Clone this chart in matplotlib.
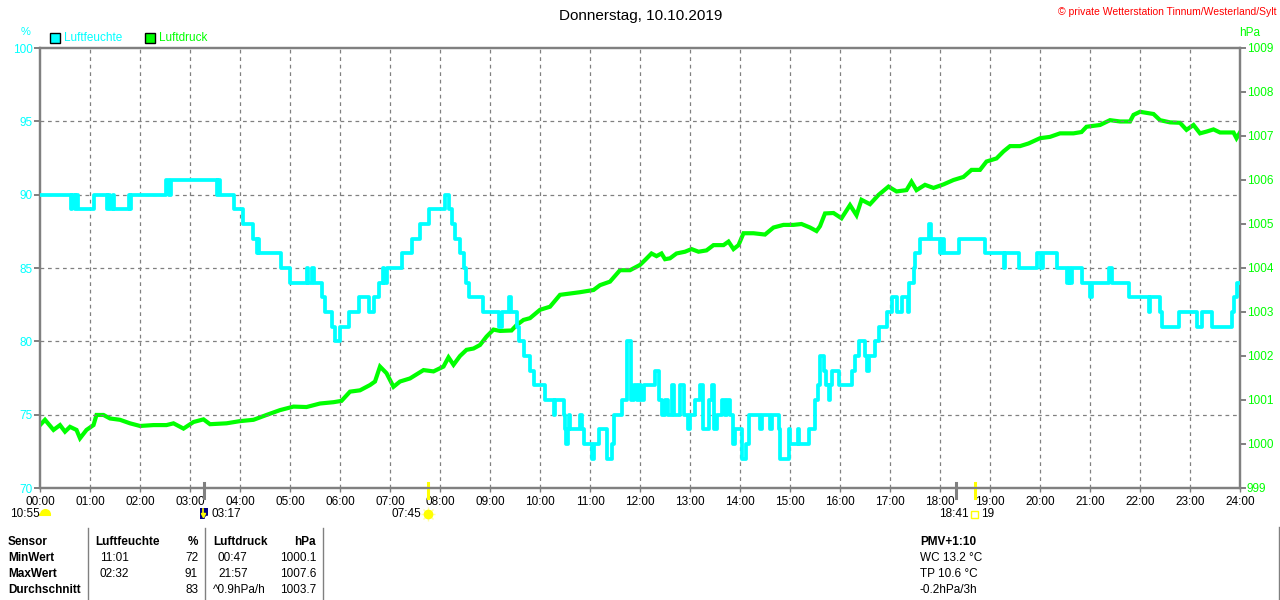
import matplotlib
matplotlib.use("Agg")
import matplotlib.pyplot as plt
from matplotlib.patches import Rectangle
from matplotlib.lines import Line2D
from matplotlib.transforms import blended_transform_factory

plt.rcParams['font.family'] = ['Liberation Sans', 'DejaVu Sans']

# Luftfeuchte (%), Stufenwerte: Startstunde -> Wert
HUM_T = [0.00, 0.62, 0.64, 0.70, 0.72, 0.76, 1.07, 1.33, 1.36, 1.40, 1.45, 1.48,
         1.77, 1.79, 1.82, 2.52, 2.58, 2.61, 3.53, 3.56, 3.60, 3.88, 4.05, 4.25,
         4.33, 4.35, 4.37, 4.81, 5.00, 5.33, 5.36, 5.44, 5.47, 5.63, 5.70, 5.83,
         5.90, 6.00, 6.17, 6.37, 6.57, 6.67, 6.77, 6.85, 6.88, 6.93, 7.23, 7.43,
         7.60, 7.78, 8.10, 8.17, 8.24, 8.30, 8.40, 8.47, 8.52, 8.58, 8.87, 9.17,
         9.23, 9.38, 9.42, 9.53, 9.58, 9.67, 9.80, 9.87, 10.10, 10.27, 10.30, 10.47,
         10.50, 10.52, 10.55, 10.57, 10.60, 10.80, 10.83, 10.87, 11.03, 11.07, 11.17, 11.33,
         11.43, 11.47, 11.63, 11.73, 11.82, 11.87, 11.93, 11.97, 12.02, 12.07, 12.30, 12.38,
         12.43, 12.50, 12.55, 12.63, 12.67, 12.80, 12.88, 12.95, 13.00, 13.10, 13.20, 13.25,
         13.38, 13.43, 13.48, 13.53, 13.63, 13.70, 13.73, 13.80, 13.85, 13.90, 14.03, 14.12,
         14.18, 14.40, 14.43, 14.60, 14.63, 14.78, 14.80, 14.97, 15.00, 15.15, 15.18, 15.37,
         15.50, 15.55, 15.60, 15.68, 15.72, 15.77, 15.80, 15.83, 15.97, 16.23, 16.30, 16.37,
         16.50, 16.53, 16.57, 16.70, 16.77, 16.93, 17.03, 17.13, 17.23, 17.35, 17.38, 17.47,
         17.50, 17.60, 17.78, 17.82, 18.00, 18.03, 18.07, 18.37, 18.90, 19.27, 19.30, 19.57,
         19.93, 20.02, 20.05, 20.33, 20.53, 20.57, 20.60, 20.63, 20.83, 21.00, 21.03, 21.37,
         21.43, 21.77, 22.17, 22.20, 22.40, 22.43, 22.77, 23.13, 23.23, 23.43, 23.83, 23.87,
         23.93, 24.00]
HUM_V = [90, 89, 90, 89, 90, 89, 90, 89, 90, 89, 90, 89,
         90, 89, 90, 91, 90, 91, 90, 91, 90, 89, 88, 87,
         86, 87, 86, 85, 84, 85, 84, 85, 84, 83, 82, 81,
         80, 81, 82, 83, 82, 83, 84, 85, 84, 85, 86, 87,
         88, 89, 90, 89, 88, 87, 86, 85, 84, 83, 82, 81,
         82, 83, 82, 81, 80, 79, 78, 77, 76, 75, 76, 75,
         74, 73, 74, 75, 74, 75, 74, 73, 72, 73, 74, 72,
         73, 75, 76, 80, 76, 77, 76, 77, 76, 77, 78, 76,
         75, 76, 75, 77, 75, 77, 75, 74, 75, 76, 77, 74,
         76, 77, 74, 75, 76, 75, 76, 75, 73, 74, 72, 73,
         75, 74, 75, 74, 75, 74, 72, 74, 73, 74, 73, 74,
         76, 77, 79, 78, 77, 76, 77, 78, 77, 78, 79, 80,
         79, 78, 79, 80, 81, 82, 83, 82, 83, 82, 84, 85,
         86, 87, 88, 87, 86, 87, 86, 87, 86, 85, 86, 85,
         86, 85, 86, 85, 84, 85, 84, 85, 84, 83, 84, 85,
         84, 83, 82, 83, 82, 81, 82, 81, 82, 81, 82, 83,
         84, 84]

# Luftdruck (hPa)
PRES_T = [0.00, 0.10, 0.27, 0.40, 0.50, 0.60, 0.73, 0.80, 0.93, 1.07, 1.13, 1.27,
          1.40, 1.60, 1.80, 2.00, 2.27, 2.53, 2.67, 2.87, 3.07, 3.27, 3.40, 3.73,
          4.00, 4.27, 4.53, 4.80, 5.07, 5.33, 5.60, 5.87, 6.03, 6.20, 6.40, 6.60,
          6.70, 6.80, 6.93, 7.07, 7.20, 7.40, 7.67, 7.87, 8.07, 8.17, 8.27, 8.40,
          8.53, 8.67, 8.80, 8.93, 9.07, 9.20, 9.43, 9.53, 9.67, 9.80, 10.00, 10.20,
          10.40, 10.60, 10.80, 11.07, 11.20, 11.40, 11.60, 11.80, 12.00, 12.10, 12.23, 12.33,
          12.43, 12.50, 12.60, 12.73, 12.90, 13.03, 13.17, 13.33, 13.47, 13.67, 13.77, 13.87,
          13.97, 14.07, 14.27, 14.50, 14.67, 14.87, 15.07, 15.23, 15.40, 15.53, 15.60, 15.70,
          15.87, 16.03, 16.20, 16.33, 16.43, 16.60, 16.77, 16.97, 17.13, 17.33, 17.43, 17.53,
          17.70, 17.87, 18.07, 18.27, 18.47, 18.63, 18.80, 18.93, 19.13, 19.27, 19.40, 19.60,
          19.77, 20.00, 20.20, 20.40, 20.67, 20.83, 20.93, 21.20, 21.40, 21.60, 21.80, 21.87,
          22.00, 22.27, 22.40, 22.60, 22.80, 22.93, 23.07, 23.20, 23.33, 23.47, 23.60, 23.87,
          23.93, 24.00]
PRES_V = [1000.43, 1000.55, 1000.32, 1000.43, 1000.28, 1000.39, 1000.32, 1000.13, 1000.32, 1000.43, 1000.66, 1000.66,
          1000.58, 1000.55, 1000.47, 1000.41, 1000.43, 1000.43, 1000.47, 1000.35, 1000.50, 1000.56, 1000.45, 1000.47,
          1000.52, 1000.55, 1000.66, 1000.77, 1000.85, 1000.84, 1000.92, 1000.95, 1000.98, 1001.19, 1001.22, 1001.34,
          1001.42, 1001.76, 1001.61, 1001.30, 1001.42, 1001.49, 1001.68, 1001.65, 1001.76, 1001.97, 1001.80, 1002.00,
          1002.14, 1002.17, 1002.25, 1002.44, 1002.60, 1002.57, 1002.58, 1002.70, 1002.82, 1002.86, 1003.05, 1003.12,
          1003.39, 1003.42, 1003.45, 1003.50, 1003.61, 1003.69, 1003.95, 1003.95, 1004.07, 1004.18, 1004.33, 1004.27,
          1004.33, 1004.20, 1004.22, 1004.33, 1004.37, 1004.43, 1004.37, 1004.40, 1004.52, 1004.52, 1004.60, 1004.43,
          1004.52, 1004.79, 1004.79, 1004.76, 1004.92, 1004.98, 1004.98, 1005.00, 1004.92, 1004.84, 1004.95, 1005.24,
          1005.25, 1005.13, 1005.43, 1005.20, 1005.55, 1005.45, 1005.66, 1005.85, 1005.74, 1005.77, 1005.96, 1005.77,
          1005.89, 1005.82, 1005.90, 1006.00, 1006.07, 1006.23, 1006.23, 1006.42, 1006.49, 1006.65, 1006.77, 1006.77,
          1006.83, 1006.95, 1006.98, 1007.06, 1007.06, 1007.09, 1007.21, 1007.25, 1007.36, 1007.33, 1007.33, 1007.48,
          1007.55, 1007.50, 1007.36, 1007.31, 1007.30, 1007.14, 1007.25, 1007.06, 1007.10, 1007.15, 1007.08, 1007.08,
          1006.95, 1007.08]

HOURS = list(range(25))
HOUR_LABELS = [f"{h:02d}:00" for h in HOURS]
HUM_TICKS = [70, 75, 80, 85, 90, 95, 100]
PRES_TICKS = list(range(999, 1010))

TABLE_ROWS = [
    ["Sensor", "Luftfeuchte", "%", "Luftdruck", "hPa"],
    ["MinWert", "11:01", "72", "00:47", "1000.1"],
    ["MaxWert", "02:32", "91", "21:57", "1007.6"],
    ["Durchschnitt", "", "83", "^0.9hPa/h", "1003.7"],
]
SIDE_INFO = ["PMV+1:10", "WC 13.2 °C", "TP 10.6 °C", "-0.2hPa/3h"]

CYAN = "#00FFFF"
GREEN = "#00FF00"
GRAY = "#808080"
YELLOW = "#FFFF00"

W, H = 1280, 600
fig = plt.figure(figsize=(W / 100, H / 100), dpi=100)


def fx(px):
    return px / W


def fy(py):
    return 1 - py / H


ax = fig.add_axes([fx(40), 112 / H, 1200 / W, 440 / H])
ax2 = ax.twinx()

ax.set_xlim(0, 24)
ax.set_ylim(70, 100)
ax2.set_ylim(999, 1009)

ax.set_xticks(HOURS)
ax.set_xticklabels(HOUR_LABELS)
ax.set_yticks(HUM_TICKS)
ax.set_yticklabels([str(v) for v in HUM_TICKS])
ax2.set_yticks(PRES_TICKS)
ax2.set_yticklabels([str(v) for v in PRES_TICKS])

ax.tick_params(axis='x', length=3, width=1, color=GRAY, labelsize=8.5, pad=3, labelcolor='black')
ax.tick_params(axis='y', length=4.5, width=1.4, color=GRAY, labelsize=8.5, pad=0.5, labelcolor=CYAN)
ax2.tick_params(axis='y', length=4.5, width=1.4, color=GRAY, labelsize=8.5, pad=0.5, labelcolor=GREEN)

for a in (ax, ax2):
    for s in a.spines.values():
        s.set_color(GRAY)
        s.set_linewidth(1.6)

# Raster
for h in HOURS[1:-1]:
    ax.axvline(h, color=GRAY, lw=0.9, ls=(0, (3, 3)), zorder=0)
for v in HUM_TICKS[1:-1]:
    ax.axhline(v, color=GRAY, lw=0.9, ls=(0, (3, 3)), zorder=0)

ax2.plot(PRES_T, PRES_V, color=GREEN, lw=3.0, solid_joinstyle='miter', zorder=3)
ax.plot(HUM_T, HUM_V, color=CYAN, lw=2.7, drawstyle='steps-post', zorder=4)
ax.set_zorder(ax2.get_zorder() + 1)
ax.patch.set_visible(False)

# Sonnen-/Mondmarken an der Zeitachse
ax.axvline(3.28, ymin=-0.022, ymax=0.012, color=GRAY, lw=2.2, clip_on=False)
ax.axvline(18.32, ymin=-0.022, ymax=0.012, color=GRAY, lw=2.2, clip_on=False)
ax.axvline(7.75, ymin=-0.022, ymax=0.012, color=YELLOW, lw=2.2, clip_on=False)
ax.axvline(18.69, ymin=-0.022, ymax=0.012, color=YELLOW, lw=2.2, clip_on=False)

bt = blended_transform_factory(ax.transData, fig.transFigure)
fig.text(fx(10), fy(514), "10:55", fontsize=8.5, va='center', ha='left')
# Tageslaenge: halbe Sonne
fig.add_artist(Line2D([fx(45)], [fy(514)], marker='o', ms=8, fillstyle='top',
                      markerfacecolor=YELLOW, markerfacecoloralt='none',
                      markeredgecolor='none', transform=fig.transFigure))
fig.add_artist(Line2D([fx(40), fx(50)], [fy(515), fy(515)], color=YELLOW, lw=1.5))
# Mond
fig.add_artist(Rectangle((3.28 - 0.08, fy(519)), 0.16, 11 / H, transform=bt,
                         facecolor="#000080", edgecolor="none"))
fig.add_artist(Line2D([3.26, 3.26], [fy(509), fy(515)], color=YELLOW, lw=1.2, transform=bt))
fig.add_artist(Line2D([3.26], [fy(515)], marker='v', ms=3, color=YELLOW, transform=bt))
fig.add_artist(Line2D([3.33], [fy(518)], marker='o', ms=3, color='white', transform=bt))
fig.text(3.42, fy(514), "03:17", transform=bt, fontsize=8.5, va='center', ha='left')
# Sonnenaufgang
fig.text(7.62, fy(514), "07:45", transform=bt, fontsize=8.5, va='center', ha='right')
fig.add_artist(Line2D([7.75], [fy(514)], marker='+', ms=10, mew=1, color="#FFFFA0", transform=bt))
fig.add_artist(Line2D([7.75], [fy(514)], marker='x', ms=7, mew=1, color="#FFFFA0", transform=bt))
fig.add_artist(Line2D([7.75], [fy(514)], marker='o', ms=6, color=YELLOW, transform=bt))
# Sonnenuntergang
fig.text(18.58, fy(514), "18:41", transform=bt, fontsize=8.5, va='center', ha='right')
fig.add_artist(Rectangle((18.69 - 0.07, fy(518)), 0.14, 7 / H, transform=bt,
                         facecolor="none", edgecolor=YELLOW, lw=1))
fig.text(18.82, fy(514), "19", transform=bt, fontsize=8.5, va='center', ha='left')

# Kopfzeile
fig.text(fx(641), fy(16), "Donnerstag, 10.10.2019", fontsize=11, ha='center', va='center')
fig.text(fx(1276), fy(12), "© private Wetterstation Tinnum/Westerland/Sylt", fontsize=7.5,
         color='red', ha='right', va='center')
fig.text(fx(26), fy(32), "%", fontsize=8, color=CYAN, ha='center', va='center')
fig.text(fx(1250), fy(33), "hPa", fontsize=8.5, color=GREEN, ha='center', va='center')

fig.add_artist(Rectangle((fx(50), fy(43)), 10 / W, 10 / H, transform=fig.transFigure,
                         facecolor=CYAN, edgecolor='black', lw=1))
fig.text(fx(64), fy(38), "Luftfeuchte", fontsize=8.5, color=CYAN, va='center')
fig.add_artist(Rectangle((fx(145), fy(43)), 10 / W, 10 / H, transform=fig.transFigure,
                         facecolor=GREEN, edgecolor='black', lw=1))
fig.text(fx(159), fy(38), "Luftdruck", fontsize=8.5, color=GREEN, va='center')

# Tabelle unten
col_x = [8, 100, 198, 218, 316]
col_ha = ['left', 'left', 'right', 'left', 'right']
row_y = [542, 558, 574, 590]
for r, row in enumerate(TABLE_ROWS):
    for c, txt in enumerate(row):
        bold = r == 0 or c == 0
        x = col_x[c]
        if r == 0 and c in (1, 3):
            x -= 5
        if r == 3 and c == 3:
            x = 213
        fig.text(fx(x), fy(row_y[r]), txt, fontsize=8.5, ha=col_ha[c], va='center',
                 fontweight='bold' if bold else 'normal')
for sx in (88, 205, 323):
    fig.add_artist(Line2D([fx(sx), fx(sx)], [fy(528), fy(600)], color=GRAY, lw=1))
fig.add_artist(Line2D([fx(1279), fx(1279)], [fy(527), fy(600)], color=GRAY, lw=1))

for i, txt in enumerate(SIDE_INFO):
    fig.text(fx(920), fy(row_y[i]), txt, fontsize=8.5, ha='left', va='center',
             fontweight='bold' if i == 0 else 'normal')

fig.savefig("out.png", dpi=100)
